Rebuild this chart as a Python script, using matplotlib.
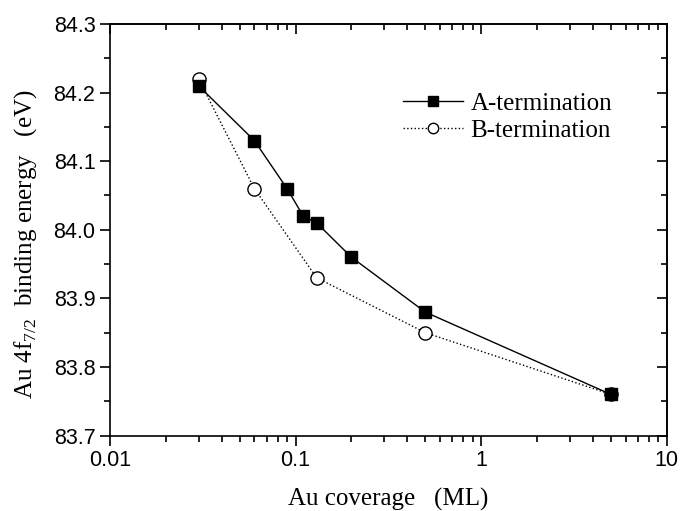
import matplotlib
matplotlib.use("Agg")
import matplotlib.pyplot as plt
from matplotlib.ticker import LogLocator, FixedLocator, MultipleLocator, NullFormatter, FuncFormatter

a_x = [0.03, 0.06, 0.09, 0.11, 0.13, 0.2, 0.5, 5]
a_y = [84.21, 84.13, 84.06, 84.02, 84.01, 83.96, 83.88, 83.76]
b_x = [0.03, 0.06, 0.13, 0.5, 5]
b_y = [84.22, 84.06, 83.93, 83.85, 83.76]
x_ticks = [0.01, 0.1, 1, 10]
x_tick_labels = ["0.01", "0.1", "1", "10"]

plt.rcParams['mathtext.fontset'] = 'custom'
plt.rcParams['mathtext.rm'] = 'Liberation Serif'
plt.rcParams['mathtext.it'] = 'Liberation Sans:italic'

fig = plt.figure(figsize=(6.81, 5.11), dpi=100)
ax = fig.add_axes([0.1615, 0.1477, 0.8175, 0.8053])

ax.plot(a_x, a_y, '-', color='black', lw=1.0, marker='s', ms=8.5,
        mfc='black', mec='black', label='A-termination', zorder=3)
ax.plot(b_x, b_y, ':', color='black', lw=1.0, marker='o', ms=9.5,
        mfc='white', mec='black', mew=1.0, label='B-termination', zorder=2)

ax.set_xscale('log')
ax.set_xlim(0.01, 10)
ax.set_ylim(83.7, 84.3)
ax.xaxis.set_major_locator(FixedLocator(x_ticks))
ax.xaxis.set_major_formatter(FuncFormatter(lambda v, p: x_tick_labels[x_ticks.index(min(x_ticks, key=lambda t: abs(t - v)))]))
ax.xaxis.set_minor_locator(LogLocator(base=10, subs=range(2, 10)))
ax.xaxis.set_minor_formatter(NullFormatter())
ax.yaxis.set_major_locator(MultipleLocator(0.1))
ax.yaxis.set_minor_locator(MultipleLocator(0.05))
ax.yaxis.set_major_formatter(FuncFormatter(lambda v, p: f"{v:.1f}"))

for s in ax.spines.values():
    s.set_linewidth(1.2)

ax.tick_params(which='both', direction='out', top=False, right=False, width=1.2)
ax.tick_params(which='major', length=7.5, pad=3)
ax.tick_params(which='minor', length=4.5)
for lbl in ax.get_xticklabels() + ax.get_yticklabels():
    lbl.set_family('Liberation Sans')
    lbl.set_fontsize(15.5)

# inward ticks on top and right
axt = ax.secondary_xaxis('top')
axt.xaxis.set_major_locator(FixedLocator(x_ticks))
axt.xaxis.set_minor_locator(LogLocator(base=10, subs=range(2, 10)))
axt.xaxis.set_major_formatter(NullFormatter())
axt.xaxis.set_minor_formatter(NullFormatter())
axt.tick_params(which='both', direction='in', width=1.2)
axt.tick_params(which='major', length=7.5)
axt.tick_params(which='minor', length=4.5)
axt.spines['top'].set_linewidth(1.2)

axr = ax.secondary_yaxis('right')
axr.yaxis.set_major_locator(MultipleLocator(0.1))
axr.yaxis.set_minor_locator(MultipleLocator(0.05))
axr.yaxis.set_major_formatter(NullFormatter())
axr.yaxis.set_minor_formatter(NullFormatter())
axr.tick_params(which='both', direction='in', width=1.2)
axr.tick_params(which='major', length=7.5)
axr.tick_params(which='minor', length=4.5)
axr.spines['right'].set_linewidth(1.2)

ax.set_xlabel('Au coverage   (ML)', family='Liberation Serif', fontsize=18, labelpad=12)
ax.set_ylabel(r'Au 4f$_{7/2}$  binding energy   (eV)', family='Liberation Serif', fontsize=18)
ax.yaxis.set_label_coords(-0.128, 0.465)

leg = ax.legend(loc='upper left', bbox_to_anchor=(0.508, 0.859), frameon=False,
                prop={'family': 'Liberation Serif', 'size': 18},
                handlelength=2.4, handletextpad=0.3, labelspacing=0.2, borderaxespad=0)
for h in leg.legend_handles:
    h.set_markersize(7.5)

fig.savefig('out.png', dpi=100)
